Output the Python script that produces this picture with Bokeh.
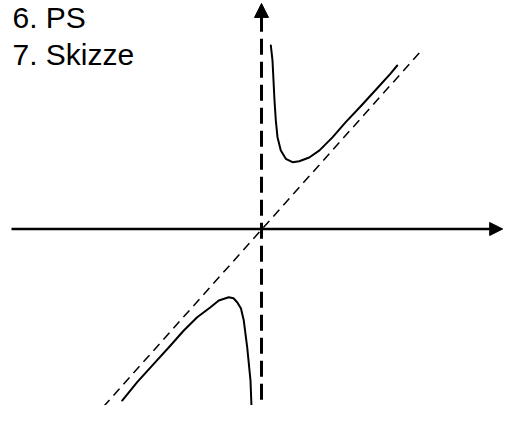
from bokeh.plotting import figure
from bokeh.models import Range1d, Arrow, NormalHead, Label
from bokeh.embed import file_html
from bokeh.resources import INLINE

# Sketch of f(x) = x + 1/x
upper_x = [0.233, 0.275, 0.30, 0.325, 0.358, 0.40, 0.483, 0.608, 0.775, 0.943,
           1.193, 1.45, 1.78, 2.10, 2.475, 2.893, 3.225, 3.393]
upper_y = [4.133, 3.795, 3.345, 2.894, 2.444, 2.068, 1.768, 1.581, 1.505, 1.527,
           1.610, 1.770, 2.070, 2.400, 2.760, 3.170, 3.500, 3.682]

lower_x = [-3.483, -3.108, -2.693, -2.275, -1.943, -1.608, -1.275, -1.068, -0.818,
           -0.700, -0.608, -0.513, -0.443, -0.358, -0.275, -0.238]
lower_y = [-3.863, -3.450, -3.036, -2.624, -2.286, -1.986, -1.761, -1.610, -1.536,
           -1.560, -1.649, -1.791, -2.061, -2.662, -3.412, -4.291]

# oblique asymptote y = x
asym_x = [-3.95, 3.95]
asym_y = [-4.0, 3.97]

# vertical asymptote x = 0 (coincides with the y axis)
vert_x = [0.0, 0.0]
vert_y = [4.80, -4.34]

# axes extents
xaxis_x = [-6.25, 6.03]
yaxis_tip = 5.08

labels = ["6. PS", "7. Skizze"]
label_y = [4.76, 3.92]

p = figure(width=504, height=405, output_backend="svg", toolbar_location=None,
           x_range=Range1d(-6.525, 6.075), y_range=Range1d(-3.975, 5.146),
           min_border=0)
p.axis.visible = False
p.grid.visible = False
p.outline_line_color = None
p.background_fill_color = "white"
p.border_fill_color = "white"

# x axis with arrow
p.add_layout(Arrow(x_start=xaxis_x[0], y_start=0, x_end=xaxis_x[1], y_end=0,
                   line_width=2.5, line_color="black",
                   end=NormalHead(size=13, fill_color="black", line_color="black", line_width=1)))

# vertical dashed line + arrow head
p.line(vert_x, vert_y, line_width=3, line_color="black", line_dash="16 7")
p.add_layout(Arrow(x_start=0, y_start=4.6, x_end=0, y_end=yaxis_tip,
                   line_width=3, line_color="black",
                   end=NormalHead(size=14, fill_color="black", line_color="black", line_width=1)))

# oblique asymptote
p.line(asym_x, asym_y, line_width=1.5, line_color="black", line_dash="9 6")

# curve branches
p.line(upper_x, upper_y, line_width=2, line_color="black", line_join="round", line_cap="round")
p.line(lower_x, lower_y, line_width=2, line_color="black", line_join="round", line_cap="round")

for t, yy in zip(labels, label_y):
    p.add_layout(Label(x=-6.225, y=yy, text=t, text_font="Liberation Sans",
                       text_font_size="30px", text_color="black",
                       text_baseline="alphabetic", text_align="left"))

open("out.html", "w").write(file_html(p, INLINE))
